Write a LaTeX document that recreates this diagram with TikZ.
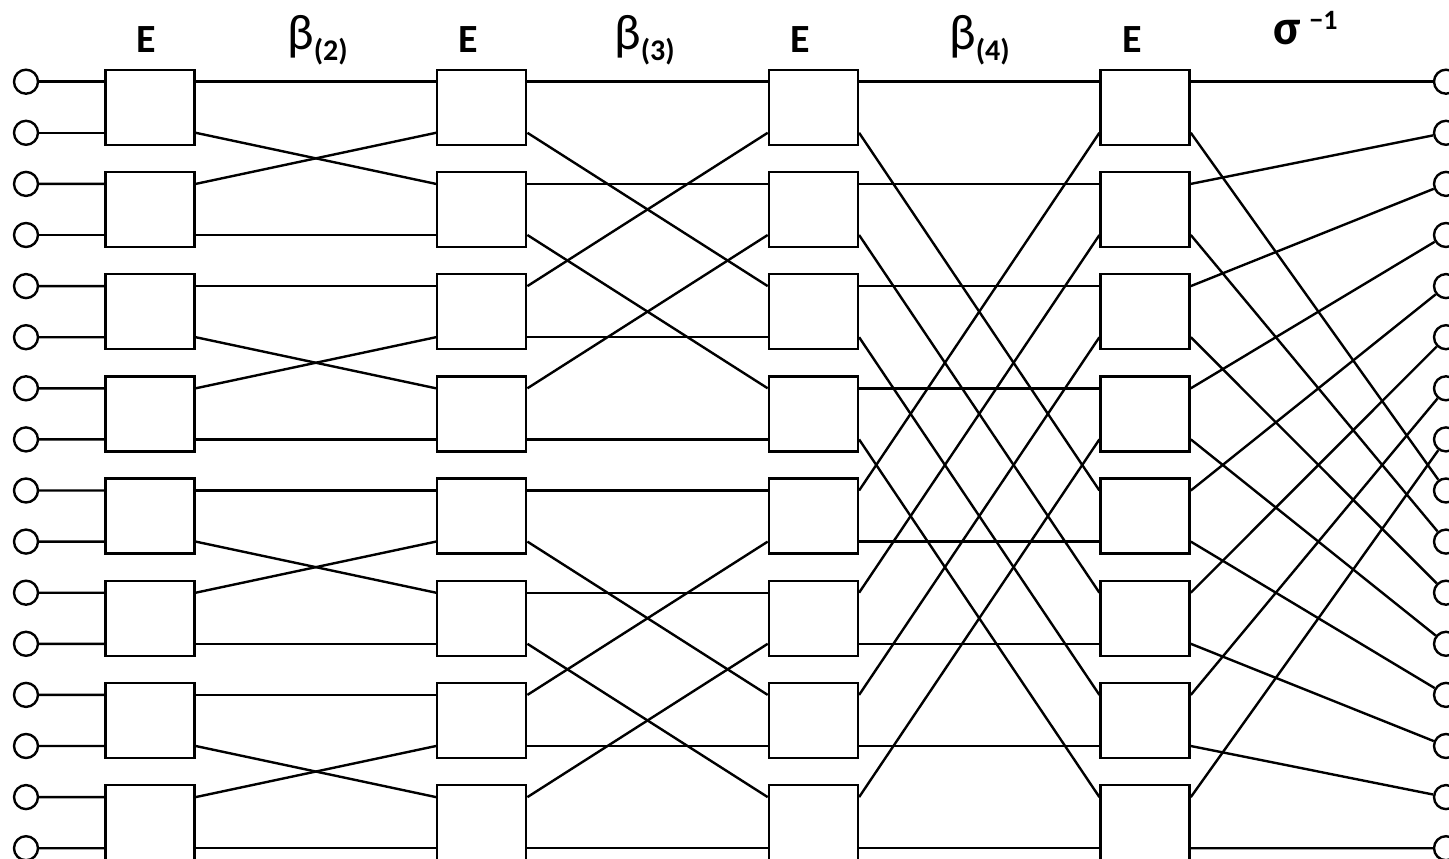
\documentclass[tikz,border=0pt]{standalone}
\usepackage{fontspec}
\setmainfont{Carlito}
\usetikzlibrary{positioning,calc}
\newcommand\stagesub{\fontsize{30}{30}\selectfont\bfseries}
\newcommand\stagesup{\fontsize{28}{28}\selectfont\bfseries}

\begin{document}
\begin{tikzpicture}[
  x=1pt, y=-1pt,
  ebox/.style={draw, line width=2.4pt, minimum width=89pt, minimum height=75pt, inner sep=0pt},
  term/.style={draw, circle, line width=2.4pt, minimum size=24pt, inner sep=0pt},
  wire/.style={line width=2.4pt},
  elabel/.style={font=\fontsize{40}{40}\selectfont\bfseries, anchor=base, inner sep=0pt},
  glabel/.style={font=\fontsize{50}{50}\selectfont, anchor=base west, inner sep=0pt},
  slabel/.style={font=\fontsize{50}{50}\selectfont\bfseries, anchor=base west, inner sep=0pt}
]
\useasboundingbox (0,0) rectangle (1449,859);

% exchange boxes, four columns of eight
\foreach \c in {1,...,4}{
  \pgfmathsetmacro\cx{150+331.7*(\c-1)}
  \foreach \bx in {0,...,7}{
    \pgfmathtruncatemacro\up{2*\bx}
    \pgfmathtruncatemacro\lo{2*\bx+1}
    \node[ebox] (e\c-\bx) at (\cx,{107.25+102.2*\bx}) {};
    \coordinate (w\c-\up) at ([yshift=25.55pt]e\c-\bx.west);
    \coordinate (w\c-\lo) at ([yshift=-25.55pt]e\c-\bx.west);
    \coordinate (o\c-\up) at ([yshift=25.55pt]e\c-\bx.east);
    \coordinate (o\c-\lo) at ([yshift=-25.55pt]e\c-\bx.east);
  }
}

% terminals
\foreach \i in {0,...,15}{
  \node[term] (in\i) at (26,{81.7+51.1*\i}) {};
  \node[term] (out\i) at (1446,{81.7+51.1*\i}) {};
  \draw[wire] (in\i) -- (w1-\i);
}

% beta stages: lower line of box k <-> upper line of box k+off
\foreach \s/\off in {2/1,3/2,4/4}{
  \pgfmathtruncatemacro\pv{\s-1}
  \foreach \i in {0,...,15}{
    \pgfmathtruncatemacro\bx{floor(\i/2)}
    \pgfmathtruncatemacro\pos{mod(\bx,2*\off)}
    \pgfmathtruncatemacro\tg{ifthenelse(mod(\i,2)==0,ifthenelse(\pos>=\off,2*(\bx-\off)+1,\i),ifthenelse(\pos<\off,2*(\bx+\off),\i))}
    \draw[wire] (o\pv-\i) -- (w\s-\tg);
  }
}

% sigma^-1: unshuffle
\foreach \i in {0,...,15}{
  \pgfmathtruncatemacro\tg{ifthenelse(mod(\i,2)==0,\i/2,8+(\i-1)/2)}
  \draw[wire] (o4-\i) -- (out\tg);
}

% labels
\node[elabel] (lab-e1) at (146,53) {E};
\node[elabel] (lab-e2) at (468,53) {E};
\node[elabel] (lab-e3) at (800,53) {E};
\node[elabel] (lab-e4) at (1132,53) {E};
\node[glabel] (lab-b2) at (287,50) {β\lower11pt\hbox{\stagesub(2)}};
\node[glabel] (lab-b3) at (614,50) {β\lower11pt\hbox{\stagesub(3)}};
\node[glabel] (lab-b4) at (949,50) {β\lower11pt\hbox{\stagesub(4)}};
\node[slabel] (lab-s) at (1273,45) {σ\hspace{9pt}\raise15pt\hbox{\stagesup−1}};
\end{tikzpicture}
\end{document}
